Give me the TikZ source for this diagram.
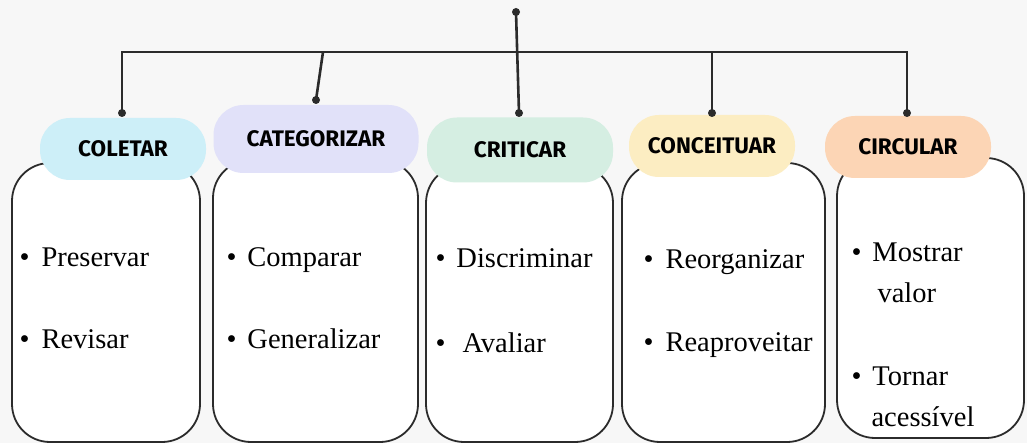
\documentclass[tikz,border=0pt]{standalone}
\usepackage{fontspec}
\setmainfont{Liberation Serif}
\newfontfamily\pillfont{Fira Sans}
\usetikzlibrary{shapes}

\definecolor{bgcol}{HTML}{F7F7F7}
\definecolor{inkcol}{HTML}{2B2B2B}
\definecolor{colcyan}{HTML}{CDEFF8}
\definecolor{catlav}{HTML}{E1E1F9}
\definecolor{crimint}{HTML}{D5EEE2}
\definecolor{conyel}{HTML}{FCEDC2}
\definecolor{cirpeach}{HTML}{FCD5B5}

\tikzstyle{card} = [rectangle, rounded corners=38pt, draw=inkcol, line width=1.8pt, fill=white]
\tikzstyle{pill} = [rectangle, rounded corners=30pt, text=black, font=\pillfont\bfseries\fontsize{22.5}{26}\selectfont]
\tikzstyle{item} = [anchor=base west, align=left, font=\fontsize{28.5}{41}\selectfont]
\tikzstyle{dot} = [circle, fill=inkcol, inner sep=0pt, minimum size=8pt]
\tikzstyle{edge} = [draw=inkcol, line width=2.6pt]

\begin{document}
\begin{tikzpicture}[x=1pt, y=-1pt]

\fill[bgcol] (0,0) rectangle (1027,443);
\useasboundingbox (0,0) rectangle (1027,443);

% cards
\node (c1) [card, minimum width=188pt, minimum height=279pt] at (106,302.5) {};
\node (c2) [card, minimum width=205pt, minimum height=282pt] at (315.5,301) {};
\node (c3) [card, minimum width=187pt, minimum height=277pt] at (519.5,303.5) {};
\node (c4) [card, minimum width=203pt, minimum height=279pt] at (723.5,302.5) {};
\node (c5) [card, minimum width=187pt, minimum height=280pt] at (930.5,298) {};

% headers
\node (h1) [pill, fill=colcyan, minimum width=166pt, minimum height=62pt] at (123,149) {COLETAR};
\node (h2) [pill, fill=catlav, minimum width=205pt, minimum height=68pt] at (316,139) {CATEGORIZAR};
\node (h3) [pill, fill=crimint, minimum width=186pt, minimum height=65pt] at (520,150) {CRITICAR};
\node (h4) [pill, fill=conyel, minimum width=166pt, minimum height=62pt] at (712,146) {CONCEITUAR};
\node (h5) [pill, fill=cirpeach, minimum width=166pt, minimum height=62pt] at (908,147) {CIRCULAR};

% items
\node (i1a) [item] at (16,267) {\textbullet\hspace{12pt}Preservar};
\node (i1b) [item] at (16,348) {\textbullet\hspace{12pt}Revisar};
\node (i2a) [item] at (223,267) {\textbullet\hspace{11pt}Comparar};
\node (i2b) [item] at (223,348) {\textbullet\hspace{11pt}Generalizar};
\node (i3a) [item] at (432,268) {\textbullet\hspace{11pt}Discriminar};
\node (i3b) [item] at (432,352) {\textbullet\hspace{17pt}Avaliar};
\node (i4a) [item] at (640,269) {\textbullet\hspace{12pt}Reorganizar};
\node (i4b) [item] at (640,351) {\textbullet\hspace{12pt}Reaproveitar};
\node (i5a) [item] at (848,303) {\textbullet\hspace{11pt}Mostrar\\\hspace{26pt}valor};
\node (i5b) [item] at (848,426) {\textbullet\hspace{11pt}Tornar\\\hspace{20pt}acessível};

% connectors
\node (root) [dot] at (516,12) {};
\node (d1) [dot] at (122,113) {};
\node (d2) [dot] at (316,100) {};
\node (d3) [dot] at (519,113) {};
\node (d4) [dot] at (712,113) {};
\node (d5) [dot] at (907,113) {};
\coordinate (busL) at (122,52);
\coordinate (busR) at (907,52);
\coordinate (bus2) at (323,52);
\coordinate (bus4) at (712,52);

\draw [edge] (d1.center) -- (busL) -- (busR) -- (d5.center);
\draw [edge] (bus2) -- (d2.center);
\draw [edge] (bus4) -- (d4.center);
\draw [edge] (root.center) -- (d3.center);

\end{tikzpicture}
\end{document}
